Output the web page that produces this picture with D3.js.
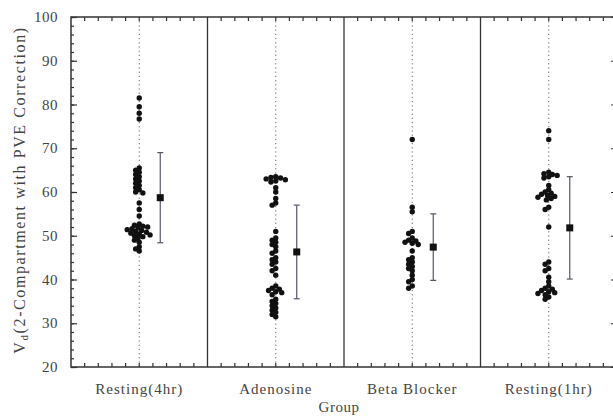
<!DOCTYPE html>
<html><head><meta charset="utf-8">
<script src="https://cdn.jsdelivr.net/npm/d3@7"></script>
<style>body{margin:0;background:#fff}svg{display:block}</style>
</head><body>
<script>
const categories = ["Resting(4hr)", "Adenosine", "Beta Blocker", "Resting(1hr)"];
const resting4 = [81.5, 79.5, 78, 76.7, 65.5, 65, 64.5, 64, 63.5, 63, 62.5, 62, 61.5, 61, 60.5, 60, 59.8, 57.5, 56, 54.5, 52.7, 52.4, 52.2, 52, 51.8, 51.6, 51.4, 51.2, 51, 50.8, 50.6, 50.4, 50.2, 50, 49.8, 49.5, 49, 48.5, 47.5, 47, 46.5];
const adenosine = [63.5, 63.3, 63.2, 63, 62.8, 62.5, 62.3, 61, 60, 58.5, 57.5, 57, 51, 49.5, 49, 48.5, 48, 47.5, 46.5, 46, 45, 44.5, 44, 43.5, 42.5, 42, 41, 38.5, 38, 37.8, 37.5, 37.2, 37, 36.5, 35.5, 35, 34.5, 34, 33.5, 33, 32.5, 32, 31.5];
const betaBlocker = [72, 56.5, 55.5, 51, 50.5, 49.5, 49, 48.8, 48.5, 48.3, 48, 46.5, 45, 44.5, 44, 43.5, 43, 42.5, 42, 41, 40, 39.5, 38.5, 38];
const resting1 = [74, 72, 64.5, 64.2, 64, 63.8, 63.5, 63.2, 61.5, 60.5, 60, 59.7, 59.5, 59.2, 59, 58.8, 58.5, 58.2, 56.5, 56, 52, 44, 43.5, 42.5, 42, 40.5, 39.5, 38.5, 38, 37.8, 37.5, 37.2, 37, 36.8, 36.5, 36, 35.5];
const groupValues = [resting4, adenosine, betaBlocker, resting1];
const means = [58.7, 46.3, 47.4, 51.8];
const sds = [10.3, 10.7, 7.6, 11.7];
const yTicks = [20, 30, 40, 50, 60, 70, 80, 90, 100];

const W = 613, H = 418;
const m = {left: 71, top: 17, right: 617, bottom: 367};
const svg = d3.select("body").append("svg").attr("width", W).attr("height", H);
const x = d3.scaleBand().domain(categories).range([m.left, m.right]).padding(0);
const y = d3.scaleLinear().domain([20, 100]).range([m.bottom, m.top]);
const bw = x.bandwidth();
const axisCol = "#333", textCol = "#444";
const font = "'Liberation Serif','DejaVu Serif',serif";

svg.append("g").selectAll("line").data(categories).join("line")
  .attr("x1", d => x(d) + bw/2).attr("x2", d => x(d) + bw/2)
  .attr("y1", m.top).attr("y2", m.bottom)
  .attr("stroke", "#666").attr("stroke-width", 1).attr("stroke-dasharray", "1.2,3");

svg.append("g").selectAll("line").data(categories.slice(1)).join("line")
  .attr("x1", d => x(d)).attr("x2", d => x(d))
  .attr("y1", m.top).attr("y2", m.bottom)
  .attr("stroke", axisCol).attr("stroke-width", 1.3);

svg.append("rect").attr("x", m.left).attr("y", m.top)
  .attr("width", m.right - m.left).attr("height", m.bottom - m.top)
  .attr("fill", "none").attr("stroke", axisCol).attr("stroke-width", 1.5);

const minorY = d3.range(20, 100.1, 2);
const gl = svg.append("g").attr("transform", `translate(${m.left},0)`)
  .call(d3.axisRight(y).tickValues(minorY).tickSize(3).tickFormat(""));
gl.select(".domain").remove();
gl.selectAll("line").attr("stroke", axisCol).attr("stroke-width", 1.2);
const gl2 = svg.append("g").attr("transform", `translate(${m.left},0)`)
  .call(d3.axisRight(y).tickValues(yTicks).tickSize(6).tickFormat(""));
gl2.select(".domain").remove();
gl2.selectAll("line").attr("stroke", axisCol).attr("stroke-width", 1.2);
const gr = svg.append("g").attr("transform", `translate(${m.right},0)`)
  .call(d3.axisLeft(y).tickValues(yTicks).tickSize(6).tickFormat(""));
gr.select(".domain").remove();
gr.selectAll("line").attr("stroke", axisCol).attr("stroke-width", 1.2);

svg.append("g").selectAll("text").data(yTicks).join("text")
  .attr("x", 58).attr("y", d => y(d) + 5)
  .attr("text-anchor", "end").attr("font-family", font).attr("font-size", 15)
  .attr("letter-spacing", 0.5).attr("fill", textCol).text(d => d);

const xMinor = [];
categories.forEach(c => { for (let i = 1; i < 10; i++) xMinor.push(x(c) + bw * i / 10); });
svg.append("g").selectAll("line").data(xMinor).join("line")
  .attr("x1", d => d).attr("x2", d => d).attr("y1", m.bottom).attr("y2", m.bottom - 4)
  .attr("stroke", axisCol).attr("stroke-width", 1.2);
svg.append("g").selectAll("line").data(xMinor).join("line")
  .attr("x1", d => d).attr("x2", d => d).attr("y1", m.top).attr("y2", m.top + 4)
  .attr("stroke", axisCol).attr("stroke-width", 1.2);

svg.append("g").selectAll("text").data(categories).join("text")
  .attr("x", d => x(d) + bw/2).attr("y", 394)
  .attr("text-anchor", "middle").attr("font-family", font).attr("font-size", 15)
  .attr("letter-spacing", 1).attr("fill", textCol).text(d => d);

svg.append("text").attr("x", 339).attr("y", 412).attr("text-anchor", "middle")
  .attr("font-family", font).attr("font-size", 15).attr("letter-spacing", 0.5)
  .attr("fill", textCol).text("Group");

const yt = svg.append("text").attr("transform", "translate(25,190) rotate(-90)")
  .attr("text-anchor", "middle").attr("font-family", font).attr("font-size", 16)
  .attr("letter-spacing", 1.6).attr("fill", textCol);
yt.append("tspan").text("V");
yt.append("tspan").attr("font-size", 11).attr("dy", 3).text("d");
yt.append("tspan").attr("dy", -3).text("(2-Compartment with PVE Correction)");

const r = 2.7;
groupValues.forEach((vals, gi) => {
  const cx = x(categories[gi]) + bw/2;
  const placed = [];
  const sorted = vals.slice().sort((a, b) => b - a);
  sorted.forEach(v => {
    const py = y(v);
    let off = 0;
    for (let k = 0; k < 60; k++) {
      const cand = (k % 2 === 0 ? 1 : -1) * Math.ceil(k / 2) * 1.2;
      const ok = placed.every(p => (p[0] - (cx + cand)) ** 2 + (p[1] - py) ** 2 >= (2 * r * 0.75) ** 2);
      if (ok) { off = cand; break; }
    }
    placed.push([cx + off, py]);
  });
  svg.append("g").selectAll("circle").data(placed).join("circle")
    .attr("cx", d => d[0]).attr("cy", d => d[1]).attr("r", r).attr("fill", "#111");
});

const eg = svg.append("g");
categories.forEach((c, i) => {
  const ex = x(c) + bw/2 + 21;
  const top = y(means[i] + sds[i]), bot = y(means[i] - sds[i]);
  eg.append("line").attr("x1", ex).attr("x2", ex).attr("y1", top).attr("y2", bot)
    .attr("stroke", "#556").attr("stroke-width", 1.2);
  [top, bot].forEach(yy => eg.append("line").attr("x1", ex - 3).attr("x2", ex + 3)
    .attr("y1", yy).attr("y2", yy).attr("stroke", "#556").attr("stroke-width", 1.2));
  eg.append("rect").attr("x", ex - 3.5).attr("y", y(means[i]) - 3.5)
    .attr("width", 7).attr("height", 7).attr("fill", "#111");
});
</script>
</body></html>
